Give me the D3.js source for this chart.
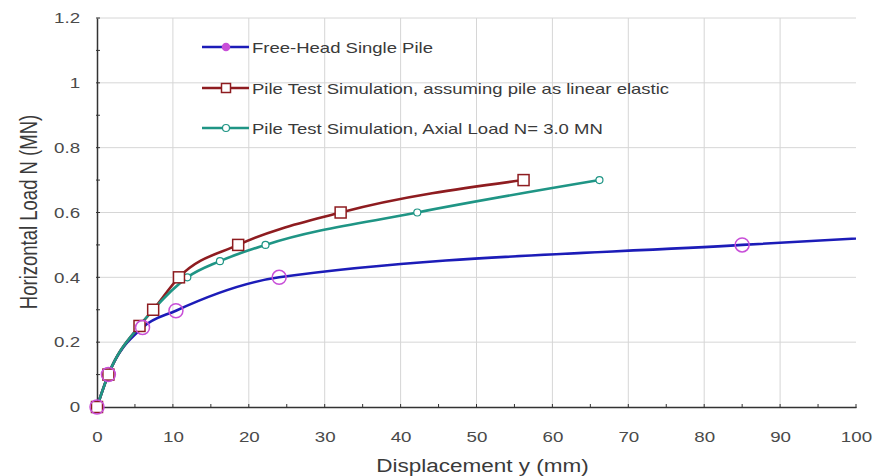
<!DOCTYPE html>
<html>
<head>
<meta charset="utf-8">
<script src="https://cdn.jsdelivr.net/npm/d3@7"></script>
<style>
  html, body { margin: 0; padding: 0; background: #fff; }
  svg { display: block; font-family: Arial, "Liberation Sans", sans-serif; }
</style>
</head>
<body>
<svg id="chart" width="873" height="476"></svg>
<script>
// Horizontal load vs. pile-head displacement
const freeHeadX = [0, 1.5, 6, 10.4, 24, 85, 110];
const freeHeadY = [0, 0.1, 0.245, 0.297, 0.4, 0.5, 0.533];
const elasticX = [0, 1.5, 5.6, 7.4, 10.8, 18.6, 32.1, 56.2];
const elasticY = [0, 0.1, 0.25, 0.3, 0.4, 0.5, 0.6, 0.7];
const axialX = [0, 1.5, 5.6, 7.4, 11.9, 16.2, 22.2, 42.2, 66.2];
const axialY = [0, 0.1, 0.25, 0.3, 0.4, 0.45, 0.5, 0.6, 0.7];

const xTicks = [0, 10, 20, 30, 40, 50, 60, 70, 80, 90, 100];
const yTicks = [0, 0.2, 0.4, 0.6, 0.8, 1, 1.2];
const yTickLabels = ["0", "0.2", "0.4", "0.6", "0.8", "1", "1.2"];

const seriesNames = [
  "Free-Head Single Pile",
  "Pile Test Simulation, assuming pile as linear elastic",
  "Pile Test Simulation, Axial Load N= 3.0 MN"
];

const svg = d3.select("#chart");
const plotL = 97, plotR = 856, plotT = 18, plotB = 407;
const WIDE = 1.25; // horizontal stretch of the lettering

const x = d3.scaleLinear().domain([0, 100]).range([plotL, plotR]);
const y = d3.scaleLinear().domain([0, 1.2]).range([plotB, plotT]);

// clip region for the plot area
svg.append("defs").append("clipPath").attr("id", "plotClip")
  .append("rect").attr("x", plotL - 8).attr("y", plotT - 8)
  .attr("width", plotR - plotL + 8).attr("height", plotB - plotT + 16);

// grid
const grid = svg.append("g");
grid.selectAll("line.v").data(xTicks.slice(1, -1)).join("line")
  .attr("x1", d => x(d)).attr("x2", d => x(d))
  .attr("y1", plotT).attr("y2", plotB)
  .attr("stroke", "#d6d6d6").attr("stroke-width", 1);
grid.selectAll("line.h").data(yTicks.slice(1)).join("line")
  .attr("x1", plotL).attr("x2", plotR)
  .attr("y1", d => y(d)).attr("y2", d => y(d))
  .attr("stroke", "#d6d6d6").attr("stroke-width", 1);

// axes
const xAxis = d3.axisBottom(x).tickValues(xTicks).tickSize(0).tickPadding(24).tickFormat(d3.format("d"));
const gx = svg.append("g").attr("transform", `translate(0,${plotB})`).call(xAxis);
gx.select(".domain").attr("stroke", "#333").attr("stroke-width", 1.5);
gx.selectAll("text").attr("font-size", 15).attr("fill", "#4a4a4a")
  .attr("transform", `scale(${WIDE},1)`);

const yAxis = d3.axisLeft(y).tickValues(yTicks).tickSize(0).tickPadding(13.5)
  .tickFormat((d, i) => yTickLabels[i]);
const gy = svg.append("g").attr("transform", `translate(${plotL},0)`).call(yAxis);
gy.select(".domain").attr("stroke", "#333").attr("stroke-width", 1.5);
gy.selectAll("text").attr("font-size", 15).attr("fill", "#4a4a4a")
  .attr("transform", `scale(${WIDE},1)`);

// minor tick marks
svg.append("g").selectAll("line").data(d3.range(0, 101, 5)).join("line")
  .attr("x1", d => x(d)).attr("x2", d => x(d))
  .attr("y1", plotB - 3).attr("y2", plotB + 1)
  .attr("stroke", "#333").attr("stroke-width", 1);
svg.append("g").selectAll("line").data(d3.range(0, 12.5).map(i => i / 10)).join("line")
  .attr("x1", plotL - 1).attr("x2", plotL + 3)
  .attr("y1", d => y(d)).attr("y2", d => y(d))
  .attr("stroke", "#333").attr("stroke-width", 1);

// axis titles
svg.append("text")
  .attr("transform", `translate(${(plotL + plotR) / 2 + 6},472) scale(${WIDE},1)`)
  .attr("text-anchor", "middle").attr("font-size", 18).attr("fill", "#3a3a3a")
  .text("Displacement y (mm)");
svg.append("text")
  .attr("transform", `translate(37,212) scale(${WIDE},1) rotate(-90)`)
  .attr("text-anchor", "middle").attr("font-size", 18.5).attr("fill", "#3a3a3a")
  .text("Horizontal Load N (MN)");

const plot = svg.append("g").attr("clip-path", "url(#plotClip)");
const line = d3.line().x(d => x(d[0])).y(d => y(d[1])).curve(d3.curveMonotoneX);

const series = [
  { xs: freeHeadX, ys: freeHeadY, color: "#1c1cb8", marker: "circle", mcolor: "#c84fd8", r: 7 },
  { xs: elasticX, ys: elasticY, color: "#8e1c20", marker: "square", mcolor: "#8e1c20", r: 5.5 },
  { xs: axialX, ys: axialY, color: "#1f9585", marker: "small", mcolor: "#1f9585", r: 3.5 }
];

function drawMarker(g, cx, cy, s, legend) {
  if (s.marker === "circle") {
    g.append("circle").attr("cx", cx).attr("cy", cy).attr("r", legend ? 3.5 : s.r)
      .attr("fill", legend ? "#c84fd8" : "none").attr("stroke", s.mcolor).attr("stroke-width", 1.5);
  } else if (s.marker === "square") {
    const r = legend ? 4.5 : s.r;
    g.append("rect").attr("x", cx - r).attr("y", cy - r).attr("width", 2 * r).attr("height", 2 * r)
      .attr("fill", "#fff").attr("stroke", s.mcolor).attr("stroke-width", 1.5);
  } else {
    g.append("circle").attr("cx", cx).attr("cy", cy).attr("r", s.r)
      .attr("fill", "#fff").attr("stroke", s.mcolor).attr("stroke-width", 1.2);
  }
}

// curves: free-head first, then the two pile-test simulations over it
[0, 1, 2].forEach(i => {
  const s = series[i];
  const pts = s.xs.map((v, j) => [v, s.ys[j]]);
  plot.append("path").datum(pts).attr("d", line)
    .attr("fill", "none").attr("stroke", s.color).attr("stroke-width", 2.6);
});
[2, 1, 0].forEach(i => {
  const s = series[i];
  const mg = plot.append("g");
  s.xs.forEach((v, j) => {
    if (v <= 100) drawMarker(mg, x(v), y(s.ys[j]), s, false);
  });
});

// legend
const legend = svg.append("g");
const legendY = [47, 88, 128];
series.forEach((s, i) => {
  const ly = legendY[i];
  legend.append("line").attr("x1", 202).attr("x2", 249).attr("y1", ly).attr("y2", ly)
    .attr("stroke", s.color).attr("stroke-width", 2.6);
  drawMarker(legend, 226, ly, s, true);
  legend.append("text")
    .attr("transform", `translate(252,${ly + 6}) scale(${WIDE},1)`)
    .attr("font-size", 14.8).attr("fill", "#3a3a3a").text(seriesNames[i]);
});
</script>
</body>
</html>
